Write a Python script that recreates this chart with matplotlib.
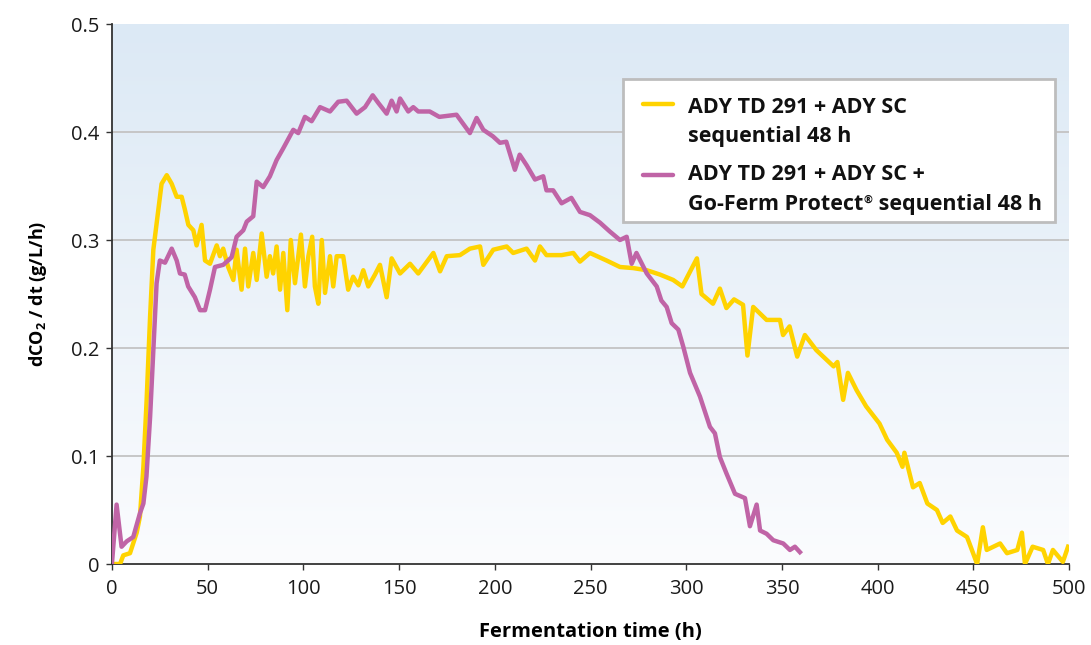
import numpy as np
import matplotlib
matplotlib.use("Agg")
import matplotlib.pyplot as plt
from matplotlib.lines import Line2D
from matplotlib.patches import Rectangle
from matplotlib.colors import LinearSegmentedColormap
from matplotlib.transforms import offset_copy

plt.rcParams['font.family'] = ['Open Sans', 'DejaVu Sans']
plt.rcParams['mathtext.fontset'] = 'custom'
plt.rcParams['mathtext.bf'] = 'Open Sans:bold'
plt.rcParams['mathtext.rm'] = 'Open Sans'

# Series 1: ADY TD 291 + ADY SC sequential 48 h
time_seq = [0, 4.2, 5.9, 9.4, 12.9, 14.6, 16.4, 18.1, 19.9, 21.6, 24.2, 25.9, 28.6, 31.2, 33.8,
            36.4, 38.1, 39.9, 42.5, 44.2, 46.8, 48.6, 51.2, 54.7, 56.4, 58.1, 60.7, 63.4, 65.1,
            67.7, 69.5, 71.2, 73.8, 75.6, 78.2, 80.8, 82.5, 84.2, 86, 87.8, 89.5, 91.6, 93.4,
            95.6, 98.7, 100.8, 102.6, 104.6, 106, 107.8, 109.6, 111.3, 113.9, 115.6, 117.4,
            120.8, 123.4, 126, 128.7, 131.3, 133.9, 137.4, 140, 143.5, 146.1, 150.5, 155.7,
            160, 167.9, 171.4, 174.9, 181.8, 187, 192.3, 194, 199.2, 206.2, 209.6, 216.6, 221,
            223.6, 227, 234.9, 241, 244.5, 249.7, 258.4, 265.4, 272.3, 279.4, 286.3, 293.2, 298,
            305.6, 308, 314, 317.6, 321, 325, 329.7, 332, 335, 342, 349, 350.6, 354, 358, 362,
            368, 377, 379, 382, 384.5, 389, 394, 401, 405, 410, 413, 414, 418.5, 422, 426, 431,
            434, 438, 441.5, 446.7, 448, 452, 455, 457, 464, 467.6, 473, 475.4, 477, 481, 486.5,
            489, 491.6, 496.8, 499.5]
rate_seq = [0, 0, 0.008, 0.01, 0.029, 0.044, 0.09, 0.152, 0.229, 0.291, 0.328, 0.352, 0.36, 0.352,
            0.34, 0.34, 0.328, 0.314, 0.309, 0.295, 0.314, 0.281, 0.278, 0.295, 0.285, 0.292,
            0.275, 0.263, 0.291, 0.254, 0.292, 0.257, 0.288, 0.263, 0.306, 0.266, 0.285, 0.269,
            0.294, 0.254, 0.288, 0.235, 0.3, 0.26, 0.305, 0.257, 0.285, 0.303, 0.257, 0.241, 0.3,
            0.251, 0.285, 0.257, 0.285, 0.285, 0.254, 0.266, 0.258, 0.272, 0.257, 0.268, 0.277,
            0.247, 0.283, 0.269, 0.278, 0.269, 0.288, 0.271, 0.285, 0.286, 0.292, 0.294, 0.277,
            0.291, 0.294, 0.288, 0.292, 0.281, 0.294, 0.286, 0.286, 0.288, 0.28, 0.288, 0.281,
            0.275, 0.274, 0.272, 0.268, 0.263, 0.257, 0.283, 0.25, 0.241, 0.255, 0.237, 0.245,
            0.24, 0.193, 0.238, 0.226, 0.226, 0.212, 0.22, 0.192, 0.212, 0.198, 0.183, 0.187,
            0.152, 0.177, 0.161, 0.146, 0.13, 0.115, 0.103, 0.09, 0.103, 0.071, 0.075, 0.056,
            0.05, 0.038, 0.044, 0.031, 0.025, 0.019, 0.0, 0.034, 0.013, 0.019, 0.01, 0.013,
            0.029, 0.0, 0.016, 0.013, 0.0, 0.013, 0.002, 0.016]

# Series 2: ADY TD 291 + ADY SC + Go-Ferm Protect sequential 48 h
time_gf = [0, 2.4, 5, 7.7, 11.1, 14.6, 16.4, 18, 19.9, 21.6, 23.3, 25, 27.7, 31.2, 33.8, 35.5,
           38, 39.8, 43.3, 46, 48.6, 51.2, 53.8, 58.1, 62.5, 65.1, 68.6, 70.4, 73.8, 75.6, 79,
           82.5, 86, 89.5, 94.7, 97.3, 100.8, 104.3, 108.7, 113.9, 118.2, 122.6, 127.8, 132.2,
           136.2, 139.1, 143.5, 146.1, 148.7, 150.5, 154.8, 157.4, 160, 166, 171, 180, 187,
           190.5, 194, 199, 202.7, 206, 210.5, 213, 216.7, 221, 225.3, 227, 230.5, 234.9, 240,
           244.5, 249.7, 255, 260, 265.4, 268.9, 271.5, 274, 279.4, 284.6, 287, 289.8, 292.4,
           295.9, 298.5, 302, 307.2, 312.4, 315, 317.6, 321, 325.5, 330.7, 333.3, 336.8, 338.6,
           342, 345.5, 350.7, 354.2, 356.8, 359.4]
rate_gf = [0.001, 0.055, 0.016, 0.021, 0.025, 0.047, 0.056, 0.081, 0.136, 0.198, 0.26, 0.281,
           0.279, 0.292, 0.281, 0.269, 0.268, 0.257, 0.247, 0.235, 0.235, 0.254, 0.275, 0.277,
           0.284, 0.303, 0.309, 0.317, 0.322, 0.354, 0.349, 0.359, 0.374, 0.385, 0.402, 0.399,
           0.414, 0.41, 0.423, 0.419, 0.428, 0.429, 0.417, 0.423, 0.434, 0.427, 0.417, 0.429,
           0.419, 0.431, 0.419, 0.423, 0.419, 0.419, 0.414, 0.416, 0.399, 0.413, 0.402, 0.396,
           0.39, 0.391, 0.365, 0.379, 0.369, 0.356, 0.359, 0.346, 0.346, 0.334, 0.339, 0.326,
           0.323, 0.316, 0.308, 0.3, 0.303, 0.278, 0.288, 0.269, 0.257, 0.244, 0.238, 0.223,
           0.217, 0.201, 0.177, 0.155, 0.127, 0.121, 0.099, 0.084, 0.065, 0.061, 0.035, 0.055,
           0.031, 0.028, 0.022, 0.019, 0.013, 0.016, 0.011]

# legend text: each entry as list of lines; each line as list of (text, is_superscript)
labels = [
    [[("ADY TD 291 + ADY SC", False)], [("sequential 48 h", False)]],
    [[("ADY TD 291 + ADY SC +", False)],
     [("Go-Ferm Protect", False), ("\u00ae", True), (" sequential 48 h", False)]],
]
colors = ["#FFD300", "#C064A6"]
x_ticks = [0, 50, 100, 150, 200, 250, 300, 350, 400, 450, 500]
y_ticks = [0, 0.1, 0.2, 0.3, 0.4, 0.5]
y_ticklabels = ["0", "0.1", "0.2", "0.3", "0.4", "0.5"]

W, H = 1091, 645
fig = plt.figure(figsize=(W / 100, H / 100), dpi=100)
L, R, T, B = 112, 1069, 24, 564
ax = fig.add_axes([L / W, 1 - B / H, (R - L) / W, (B - T) / H])

def afx(px):
    return (px - L) / (R - L)

def afy(py):
    return (B - py) / (B - T)

# background gradient
cmap = LinearSegmentedColormap.from_list("bg", ["#FBFCFE", "#DCE9F5"])
grad = np.linspace(0, 1, 256).reshape(-1, 1)
ax.imshow(grad, extent=[0, 500, 0, 0.5], origin="lower", aspect="auto", cmap=cmap, zorder=0)

for yv in y_ticks[1:-1]:
    ax.axhline(yv, color="#C3C3C3", lw=1.3, zorder=1)

ax.plot(time_seq, rate_seq, color=colors[0], lw=3.2, zorder=3, solid_joinstyle="round")
ax.plot(time_gf, rate_gf, color=colors[1], lw=3.2, zorder=4, solid_joinstyle="round")

ax.set_xlim(0, 500)
ax.set_ylim(0, 0.5)
ax.set_xticks(x_ticks)
ax.set_yticks(y_ticks)
ax.set_yticklabels(y_ticklabels)
ax.tick_params(axis="both", labelsize=14.5, color="#333333", length=4, width=1, direction="out",
               labelcolor="#1a1a1a")
ax.tick_params(axis="x", pad=7)
ax.tick_params(axis="y", pad=5)
for s in ["top", "right"]:
    ax.spines[s].set_visible(False)
for s in ["left", "bottom"]:
    ax.spines[s].set_color("#333333")
    ax.spines[s].set_linewidth(1.3)

ax.set_xlabel("Fermentation time (h)", fontsize=14.5, fontweight="bold", labelpad=16)
ax.set_ylabel(r"dCO$_\mathbf{2}$ / dt (g/L/h)", fontsize=13, fontweight="bold", labelpad=16)

# legend drawn manually (handle aligned with first text line, as in the reference)
box = Rectangle((afx(623), afy(222)), afx(1055) - afx(623), afy(79) - afy(222),
                transform=ax.transAxes, facecolor="white", edgecolor="#BDBDBD", lw=2, zorder=6)
ax.add_patch(box)
handle_y = [104, 175]
base_y = [(113.3, 141.7), (180, 210)]
fs = 15.5
fig.canvas.draw()
renderer = fig.canvas.get_renderer()
for entry, col, hy, bys in zip(labels, colors, handle_y, base_y):
    ax.add_line(Line2D([afx(643), afx(673)], [afy(hy), afy(hy)], color=col, lw=3.2,
                       transform=ax.transAxes, zorder=7, solid_capstyle="round"))
    for line, by in zip(entry, bys):
        xpix = 688.0
        for txt, sup in line:
            size = fs * 0.5 if sup else fs
            yoff = 7.5 if sup else 0
            trans = offset_copy(ax.transAxes, fig=fig, x=0, y=yoff, units="dots")
            t = ax.text(afx(xpix), afy(by), txt, transform=trans, ha="left", va="baseline",
                        fontsize=size, fontweight="bold", color="#111111", zorder=8)
            bb = t.get_window_extent(renderer=renderer)
            xpix += bb.width + (1 if sup else 0)

fig.savefig("out.png", dpi=100)
